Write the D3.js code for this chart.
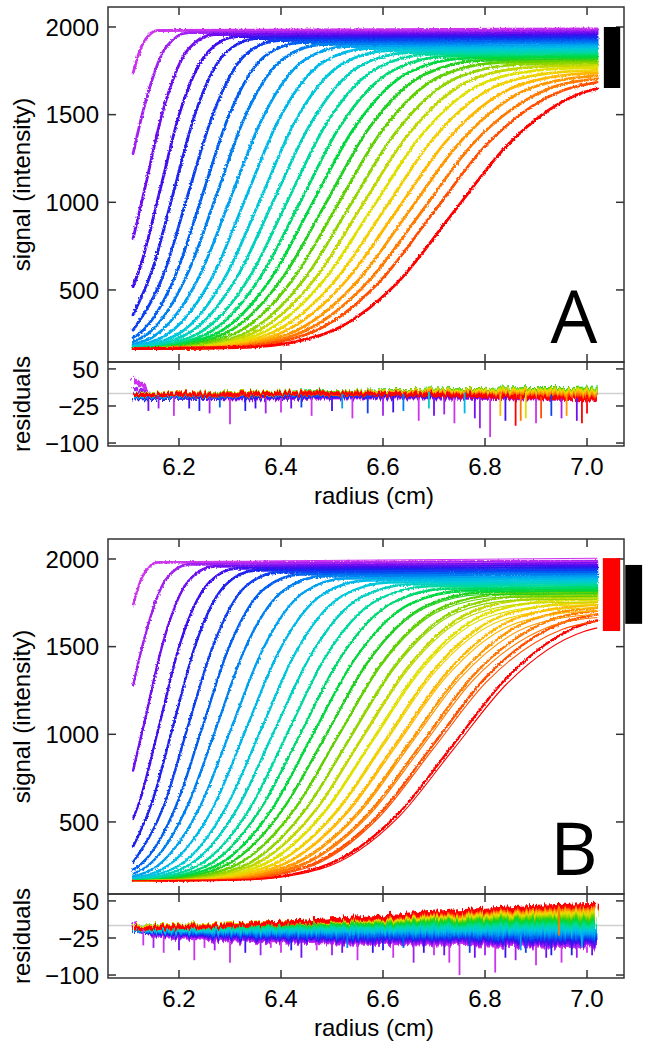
<!DOCTYPE html>
<html><head><meta charset="utf-8">
<script src="https://cdn.jsdelivr.net/npm/d3@7"></script>
<style>body{margin:0;background:#fff}text{font-family:"Liberation Sans",Arial,sans-serif}</style>
</head><body>
<svg id="c" width="649" height="1048"></svg>
<script>
// ---------- data ----------
const xTicks = [6.2, 6.4, 6.6, 6.8, 7.0];
const yTicks = [500, 1000, 1500, 2000];
const resTicks = [50, -25, -100];
const panelLetters = ["A", "B"];
const meniscusR = 6.11, endR = 7.02;
// signal at the meniscus for each scan
const scanStart = [1737,1278,793,519,359,271,228,205,190,180,174,171,169,168,167,166,165,165,165,165,165,165,165,165,165,165];
// signal at the end of the data for each scan
const scanEnd = [1989,1977,1966,1954,1943,1932,1920,1909,1897,1886,1874,1863,1852,1840,1829,1817,1806,1794,1781,1768,1753,1738,1722,1704,1684,1649];
// radius at which each scan crosses its boundary levels
const scanLevelR = [
 [6.033,6.053,6.074,6.088,6.103,6.128,6.158],
 [5.977,6.021,6.066,6.098,6.130,6.175,6.219],
 [5.996,6.045,6.097,6.132,6.168,6.219,6.269],
 [6.010,6.065,6.122,6.162,6.201,6.259,6.313],
 [6.027,6.086,6.147,6.189,6.231,6.292,6.351],
 [6.042,6.106,6.172,6.218,6.265,6.331,6.395],
 [6.054,6.123,6.196,6.246,6.296,6.368,6.438],
 [6.065,6.140,6.218,6.273,6.327,6.406,6.481],
 [6.078,6.159,6.243,6.302,6.361,6.445,6.526],
 [6.093,6.179,6.269,6.331,6.393,6.483,6.569],
 [6.108,6.199,6.294,6.360,6.425,6.520,6.611],
 [6.122,6.217,6.317,6.386,6.456,6.555,6.651],
 [6.136,6.236,6.341,6.413,6.485,6.590,6.690],
 [6.149,6.254,6.362,6.438,6.513,6.622,6.726],
 [6.162,6.271,6.384,6.462,6.541,6.654,6.762],
 [6.176,6.288,6.405,6.487,6.568,6.685,6.797],
 [6.190,6.306,6.427,6.511,6.595,6.716,6.832],
 [6.204,6.324,6.448,6.535,6.622,6.747,6.866],
 [6.216,6.339,6.468,6.557,6.647,6.775,6.899],
 [6.228,6.355,6.487,6.579,6.671,6.803,6.930],
 [6.242,6.373,6.509,6.603,6.697,6.833,6.964],
 [6.257,6.391,6.530,6.627,6.724,6.863,6.997],
 [6.272,6.409,6.552,6.651,6.750,6.892,7.029],
 [6.287,6.427,6.573,6.675,6.776,6.922,7.062],
 [6.303,6.446,6.595,6.698,6.802,6.951,7.094],
 [6.332,6.478,6.631,6.736,6.842,6.994,7.140]
];
// signal values at those crossings
const scanLevelV = [
 [174,256,621,1077,1533,1898,1980],
 [174,256,618,1071,1524,1886,1968],
 [174,255,615,1066,1516,1876,1957],
 [174,254,612,1060,1507,1865,1945],
 [174,254,610,1054,1499,1854,1934],
 [174,253,607,1049,1490,1844,1923],
 [174,253,604,1043,1481,1832,1911],
 [174,252,601,1037,1473,1822,1900],
 [174,252,598,1031,1464,1810,1888],
 [174,251,595,1026,1456,1800,1877],
 [174,250,592,1020,1447,1789,1865],
 [173,250,590,1014,1439,1778,1854],
 [173,249,587,1009,1430,1768,1844],
 [173,249,584,1003,1421,1756,1832],
 [173,248,581,997,1413,1746,1821],
 [173,248,578,991,1404,1734,1809],
 [173,247,575,986,1396,1724,1798],
 [173,246,572,980,1387,1713,1786],
 [173,246,569,973,1377,1700,1773],
 [173,245,566,967,1367,1688,1760],
 [173,245,563,960,1358,1676,1747],
 [173,244,560,954,1349,1664,1735],
 [173,243,557,949,1340,1654,1724],
 [173,243,554,944,1333,1644,1714],
 [173,242,552,939,1326,1636,1705],
 [173,242,550,935,1320,1628,1697]
];
// residual knots (radius) and residual traces per scan
const resR = [6.11, 6.15, 6.3, 6.5, 6.7, 6.9, 7.02];
const resA = [
 [35,-5,-10,-8,-8,-10,-12],[15,-6,-9,-7,-7,-9,-10],[0,-8,-8,-6,-6,-8,-9],[-10,-9,-7,-5,-5,-6,-6],
 [-9,-8,-6,-4,-4,-4,-4],[-8,-7,-5,-3,-3,-2,-2],[-7,-6,-4,-2,-1,0,0],[-6,-6,-4,-1,0,1,1],
 [-5,-5,-3,0,1,2,2],[-5,-4,-2,0,2,3,3],[-4,-4,-2,1,3,5,5],[-4,-3,-1,1,4,6,6],
 [-3,-3,-1,2,5,7,8],[-3,-3,0,2,5,8,9],[-3,-2,0,3,6,9,10],[-3,-2,0,3,6,9,10],
 [-3,-2,0,2,6,8,9],[-3,-2,0,2,5,7,8],[-3,-2,0,2,4,6,6],[-3,-2,-1,1,3,4,4],
 [-3,-3,-1,1,2,2,2],[-3,-3,-1,0,1,0,-1],[-3,-3,-2,0,0,-2,-3],[-3,-3,-2,0,-1,-4,-6],
 [-3,-3,-2,0,-2,-6,-9],[-3,-3,-2,1,-3,-8,-12]
];
const resB = [
 [5,-20,-30,-34,-36,-40,-42],[0,-18,-28,-32,-33,-37,-39],[-5,-16,-25,-29,-30,-34,-36],[-10,-15,-22,-26,-26,-30,-32],
 [-10,-14,-20,-24,-25,-27,-29],[-10,-13,-18,-22,-22,-24,-26],[-10,-12,-16,-19,-19,-21,-23],[-9,-11,-14,-16,-16,-17,-19],
 [-9,-10,-12,-13,-13,-14,-15],[-8,-9,-10,-10,-10,-10,-11],[-7,-8,-8,-8,-7,-7,-7],[-6,-6,-6,-5,-4,-3,-3],
 [-5,-5,-4,-2,0,1,1],[-4,-4,-2,1,4,6,6],[-4,-3,0,3,7,10,11],[-3,-2,1,5,10,14,15],
 [-3,-2,2,7,13,18,19],[-3,-2,2,8,15,21,23],[-4,-3,2,9,17,24,26],[-4,-3,2,9,18,26,29],
 [-5,-3,2,10,20,28,31],[-5,-4,1,10,21,30,34],[-6,-4,1,10,22,32,36],[-6,-5,0,10,23,34,38],
 [-6,-5,0,10,24,36,40],[-7,-5,0,11,26,38,42]
];
// systematic offset of the fitted line below the data in panel B, at the same knots
const fitGapB = [
 [0,-4,-8,-10,-12,-14,-15],[0,-4,-7,-9,-11,-13,-14],[0,-3,-6,-8,-10,-12,-13],[0,-3,-6,-8,-9,-11,-12],
 [0,-3,-5,-7,-8,-10,-11],[0,-3,-5,-6,-7,-9,-10],[0,-2,-4,-5,-6,-8,-9],[0,-2,-4,-5,-6,-7,-8],
 [0,-2,-3,-4,-5,-6,-7],[0,-2,-3,-4,-4,-5,-6],[0,-1,-2,-3,-3,-4,-5],[0,-1,-2,-2,-2,-3,-3],
 [0,-1,-1,-1,0,1,1],[0,-1,0,1,4,6,6],[0,-1,0,3,7,10,11],[0,-1,1,5,10,14,15],
 [0,-1,2,7,13,18,19],[0,-1,2,8,15,21,23],[0,-1,2,9,17,24,26],[0,-1,2,9,18,26,29],
 [0,-1,2,10,20,28,31],[0,-1,1,10,21,30,34],[0,-1,1,10,22,32,36],[0,-1,0,10,23,34,38],
 [0,-1,0,10,24,36,40],[0,-1,0,11,26,38,42]
];
// prominent residual spikes: [radius, residual, scan number]
const spikesA = [[6.14,-35,3],[6.16,-30,2],[6.19,-45,1],[6.22,-30,4],[6.24,-35,5],[6.26,-40,2],[6.28,-28,7],[6.30,-62,1],
 [6.33,-35,5],[6.35,-30,4],[6.37,-40,2],[6.40,-38,1],[6.42,-30,3],[6.44,-28,6],[6.46,-45,1],[6.50,-35,4],[6.52,-30,9],
 [6.54,-50,1],[6.57,-40,6],[6.60,-45,2],[6.62,-38,4],[6.64,-35,8],[6.67,-55,1],[6.69,-30,12],[6.70,-45,3],[6.72,-42,2],
 [6.74,-60,1],[6.76,-40,10],[6.78,-50,3],[6.79,-70,2],[6.81,-88,1],[6.83,-45,22],[6.84,-55,4],[6.86,-65,26],[6.87,-55,24],
 [6.88,-50,20],[6.90,-60,1],[6.91,-50,25],[6.93,-45,6],[6.95,-50,2],[6.96,-45,23],[6.98,-55,3],[6.99,-60,26],[7.00,-40,26]];
const spikesB = [[6.13,-40,1],[6.15,-45,2],[6.17,-55,1],[6.20,-50,3],[6.23,-70,1],[6.25,-45,1],[6.27,-50,2],[6.30,-75,1],
 [6.33,-55,4],[6.36,-60,2],[6.38,-45,1],[6.40,-55,1],[6.42,-50,5],[6.44,-65,3],[6.47,-50,1],[6.50,-60,2],[6.52,-55,3],
 [6.53,-45,8],[6.55,-70,1],[6.58,-55,4],[6.60,-50,5],[6.62,-65,1],[6.64,-45,7],[6.66,-75,2],[6.68,-55,4],[6.70,-60,1],
 [6.72,-60,3],[6.73,-75,1],[6.75,-100,1],[6.77,-55,6],[6.78,-65,3],[6.80,-60,2],[6.82,-95,1],[6.84,-65,4],[6.86,-70,2],
 [6.87,-50,9],[6.88,-55,6],[6.90,-80,1],[6.92,-65,3],[6.93,-60,5],[6.945,-20,24],[6.95,-75,1],[6.97,-60,5],[6.98,-65,2],
 [6.99,-45,10],[7.00,-55,1],[7.01,-60,3]];
// plateau range bars [low, high]
const barA = [1652, 2000];
const barBRed = [1589, 2005];
const barBBlack = [1630, 1966];

// ---------- style ----------
const palette = ["#cc33ee","#a020f0","#7010f0","#4010ee","#2020ee","#1040f0","#0060f0","#0080f0","#00a0f0","#00b8e8",
 "#00c8d8","#00d0c0","#00d8a0","#00d870","#00d840","#20d020","#60d000","#90d400","#c0d800","#e0e000",
 "#f0d000","#ffb800","#ff9800","#ff7800","#ff5000","#ff0000"];
const N = scanStart.length;
const FS = 24;
const svg = d3.select("#c");
const defsRoot = svg.append("defs");
const jag = defsRoot.append("filter").attr("id", "jag").attr("x", "-2%").attr("y", "-100%").attr("width", "104%").attr("height", "300%");
jag.append("feTurbulence").attr("type", "fractalNoise").attr("baseFrequency", "0.45 0.03").attr("numOctaves", 2).attr("seed", 4).attr("result", "t");
jag.append("feDisplacementMap").attr("in", "SourceGraphic").attr("in2", "t").attr("scale", 10)
  .attr("xChannelSelector", "R").attr("yChannelSelector", "G");
const jag2 = defsRoot.append("filter").attr("id", "jag2").attr("x", "-2%").attr("y", "-5%").attr("width", "104%").attr("height", "110%");
jag2.append("feTurbulence").attr("type", "fractalNoise").attr("baseFrequency", "0.6 0.6").attr("numOctaves", 1).attr("seed", 7).attr("result", "t");
jag2.append("feDisplacementMap").attr("in", "SourceGraphic").attr("in2", "t").attr("scale", 3.5)
  .attr("xChannelSelector", "R").attr("yChannelSelector", "G");

const L = 108, R = 624;
const x = d3.scaleLinear().domain([6.0608, 7.0725]).range([L, R]);

function scanPoints(k) {
  const pts = [[meniscusR, scanStart[k]]];
  scanLevelR[k].forEach((r, j) => { if (r > meniscusR + 0.003 && r < endR - 0.003) pts.push([r, scanLevelV[k][j]]); });
  pts.push([endR, scanEnd[k]]);
  return pts;
}

function drawPanel(p, off) {
  const top = 7 + off, sep = 362 + off, bot = 446 + off;
  const y = d3.scaleLinear().domain([89, 2114]).range([sep, top]);
  const yr = d3.scaleLinear().domain([-106, 64]).range([bot, sep]);
  const res = p === 0 ? resA : resB;
  const spikes = p === 0 ? spikesA : spikesB;
  const g = svg.append("g");
  const cid = "clipM" + p, rid = "clipR" + p;
  const defs = g.append("defs");
  defs.append("clipPath").attr("id", cid).append("rect").attr("x", L + 1).attr("y", top + 1).attr("width", R - L - 2).attr("height", sep - top - 2);
  defs.append("clipPath").attr("id", rid).append("rect").attr("x", L).attr("y", sep).attr("width", R - L).attr("height", bot - sep);

  const line = d3.line().x(d => x(d[0])).y(d => y(d[1])).curve(d3.curveMonotoneX);
  const gm = g.append("g").attr("clip-path", `url(#${cid})`).append("g");
  const gData = gm.append("g").attr("filter", "url(#jag2)");
  const gFit = gm.append("g");
  for (let k = 0; k < N; k++) {
    const pts = scanPoints(k);
    gData.append("path").attr("d", line(pts)).attr("fill", "none").attr("stroke", palette[k])
      .attr("stroke-width", p === 0 ? 2.8 : 2.4).attr("stroke-linecap", "round");
    if (p === 1) {
      const gap = d3.scaleLinear().domain(resR).range(fitGapB[k]);
      const fit = pts.map(d => [d[0], d[1] - gap(d[0])]);
      gFit.append("path").attr("d", line(fit)).attr("fill", "none").attr("stroke", palette[k])
        .attr("stroke-width", 1.1);
    }
  }

  // residuals
  const gr = g.append("g").attr("clip-path", `url(#${rid})`);
  gr.append("line").attr("x1", L).attr("x2", R).attr("y1", yr(0)).attr("y2", yr(0)).attr("stroke", "#d0d0d0").attr("stroke-width", 1.5);
  const gj = gr.append("g").attr("filter", "url(#jag)");
  const rline = d3.line().x((d, i) => x(resR[i])).y(d => yr(d));
  spikes.forEach(s => {
    const k = s[2] - 1;
    const rs = d3.scaleLinear().domain(resR).range(res[k]);
    gr.append("line").attr("x1", x(s[0])).attr("x2", x(s[0])).attr("y1", yr(rs(s[0]))).attr("y2", yr(s[1]))
      .attr("stroke", palette[k]).attr("stroke-width", 1.8);
  });
  for (let k = 0; k < N; k++) {
    gj.append("path").attr("d", rline(res[k])).attr("fill", "none").attr("stroke", palette[k]).attr("stroke-width", 4);
  }

  // frames
  [[top, sep], [sep, bot]].forEach(([t, b]) => {
    g.append("rect").attr("x", L).attr("y", t).attr("width", R - L).attr("height", b - t)
      .attr("fill", "none").attr("stroke", "#333").attr("stroke-width", 1.5);
    xTicks.forEach(v => {
      g.append("line").attr("x1", x(v)).attr("x2", x(v)).attr("y1", t).attr("y2", t + 8).attr("stroke", "#333").attr("stroke-width", 1.5);
      g.append("line").attr("x1", x(v)).attr("x2", x(v)).attr("y1", b).attr("y2", b - 8).attr("stroke", "#333").attr("stroke-width", 1.5);
    });
  });
  const ytick = (sc, vals) => vals.forEach(v => {
    g.append("line").attr("x1", L).attr("x2", L + 8).attr("y1", sc(v)).attr("y2", sc(v)).attr("stroke", "#333").attr("stroke-width", 1.5);
    g.append("line").attr("x1", R).attr("x2", R - 8).attr("y1", sc(v)).attr("y2", sc(v)).attr("stroke", "#333").attr("stroke-width", 1.5);
    g.append("text").attr("x", L - 9).attr("y", sc(v)).attr("dy", "0.36em").attr("text-anchor", "end")
      .attr("font-size", FS).text(d3.format("d")(v));
  });
  ytick(y, yTicks);
  ytick(yr, resTicks);
  xTicks.forEach(v => g.append("text").attr("x", x(v)).attr("y", bot + 29).attr("text-anchor", "middle")
    .attr("font-size", FS).text(d3.format(".1f")(v)));
  g.append("text").attr("x", (L + R) / 2 + 8).attr("y", bot + 58).attr("text-anchor", "middle").attr("font-size", FS).text("radius (cm)");
  g.append("text").attr("transform", `translate(22,${(top + sep) / 2}) rotate(-90)`).attr("dy", "0.35em")
    .attr("text-anchor", "middle").attr("font-size", FS).text("signal (intensity)");
  g.append("text").attr("transform", `translate(22,${(sep + bot) / 2}) rotate(-90)`).attr("dy", "0.35em")
    .attr("text-anchor", "middle").attr("font-size", FS).text("residuals");

  // plateau bars
  const bars = p === 0 ? [[barA, "#000", 7.033, 7.065]] : [[barBRed, "#ff0000", 7.031, 7.065], [barBBlack, "#000", 7.075, 7.108]];
  bars.forEach(([b, c, r0, r1]) => g.append("rect").attr("x", x(r0)).attr("width", x(r1) - x(r0))
    .attr("y", y(b[1])).attr("height", y(b[0]) - y(b[1])).attr("fill", c));

  g.append("text").attr("x", 574).attr("y", top + 336).attr("text-anchor", "middle")
    .attr("font-size", 74).attr("style", "font-family:'Open Sans','Liberation Sans',sans-serif").text(panelLetters[p]);
}
drawPanel(0, 0);
drawPanel(1, 532);
</script>
</body></html>
